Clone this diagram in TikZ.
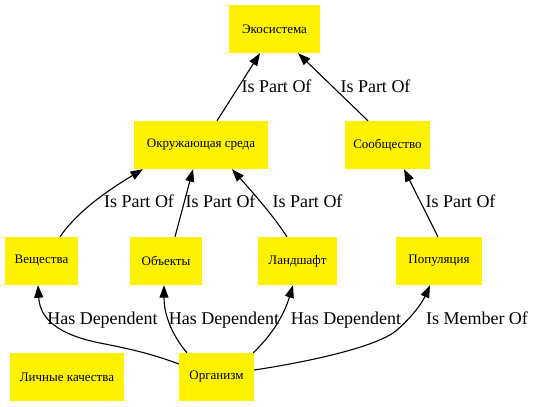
\documentclass[tikz,border=0pt]{standalone}
\usepackage{fontspec}
\setmainfont{Liberation Serif}
\usetikzlibrary{arrows.meta,calc}
\begin{document}
\begin{tikzpicture}[x=1pt,y=-1pt,
  box/.style={fill=yellow,draw=none,minimum height=48pt,inner xsep=8pt,inner ysep=0pt,
    font=\fontsize{13}{16}\selectfont},
  edge/.style={line width=1.1pt,-{Triangle[length=12.5pt,width=9pt]}},
  lbl/.style={font=\fontsize{18}{21}\selectfont,anchor=base,inner sep=0pt}]
\useasboundingbox (0,0) rectangle (536,407);
\node[box,minimum width=91pt]  (eko)  at (274.5,29)  {Экосистема};
\node[box,minimum width=134pt] (okr)  at (201,145)   {Окружающая среда};
\node[box,minimum width=83pt]  (soob) at (387.5,145) {Сообщество};
\node[box,minimum width=73pt]  (vesh) at (41.5,261)  {Вещества};
\node[box,minimum width=72pt]  (obj)  at (166,261)   {Объекты};
\node[box,minimum width=79pt]  (land) at (297.5,261) {Ландшафт};
\node[box,minimum width=86pt]  (pop)  at (439,261)   {Популяция};
\node[box,minimum width=114pt] (lich) at (67,377)    {Личные качества};
\node[box,minimum width=75pt]  (org)  at (216.5,377) {Организм};

\draw[edge] ($(okr.north)+(16,0)$) -- ($(eko.south)+(-14.5,0)$)
  node[lbl] at (276.5,92) {Is Part Of};
\draw[edge] ($(soob.north)+(-19.5,0)$) -- ($(eko.south)+(23.5,0)$)
  node[lbl] at (375.5,92) {Is Part Of};
\draw[edge] ($(vesh.north)+(18.5,0)$) .. controls (75,215) and (100,195) .. ($(okr.south)+(-58,0)$)
  node[lbl] at (139,207) {Is Part Of};
\draw[edge] ($(obj.north)+(9,0)$) -- ($(okr.south)+(-8,0)$)
  node[lbl] at (220.5,207) {Is Part Of};
\draw[edge] ($(land.north)+(-10.5,0)$) .. controls (275,218) and (255,195) .. ($(okr.south)+(31,0)$)
  node[lbl] at (307.5,207) {Is Part Of};
\draw[edge] ($(pop.north)+(-1,0)$) -- ($(soob.south)+(16.5,0)$)
  node[lbl] at (460.5,207) {Is Part Of};

\draw[edge] ($(org.west)+(0,-13)$) .. controls (150,353) and (125,348) .. (100,343)
  .. controls (60,335) and (40,320) .. ($(vesh.south)+(-3.5,0)$)
  node[lbl] at (102.5,324) {Has Dependent};
\draw[edge] ($(org.north)+(-29.5,0)$) .. controls (172,335) and (164,315) .. ($(obj.south)+(-2,0)$)
  node[lbl] at (224,324) {Has Dependent};
\draw[edge] ($(org.north east)+(-1,0)$) .. controls (272,335) and (284,315) .. ($(land.south)+(-4.5,0)$)
  node[lbl] at (346,324) {Has Dependent};
\draw[edge] ($(org.east)+(0,-7)$) .. controls (320,360) and (380,345) .. (397,330)
  .. controls (412,317) and (422,303) .. ($(pop.south)+(-9,0)$)
  node[lbl] at (477,324) {Is Member Of};
\end{tikzpicture}
\end{document}
